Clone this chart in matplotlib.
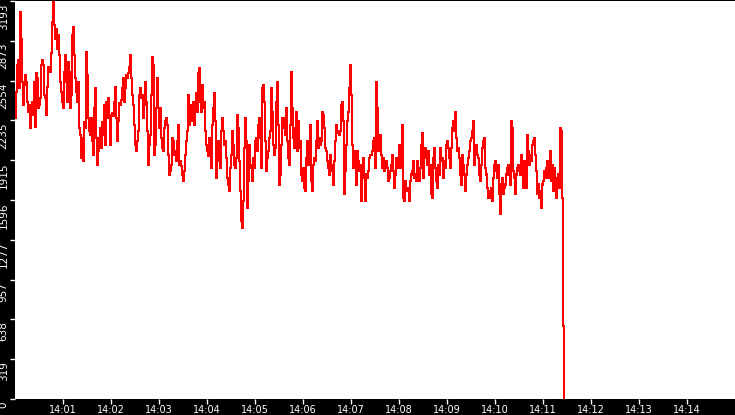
import numpy as np
import pandas as pd
import matplotlib
matplotlib.use("Agg")
import matplotlib.pyplot as plt
import matplotlib.dates as mdates
import matplotlib.transforms as mtransforms

# samples, one every 1.25 s starting 14:00:00
seg_1400 = [2253, 2466, 2679, 2719, 2492, 3104, 2891, 2546, 2359, 2519,
            2599, 2546, 2386, 2306, 2359, 2173, 2333, 2386, 2280, 2546,
            2186, 2612, 2572, 2333, 2359, 2413, 2679, 2719, 2679, 2439,
            2413, 2280, 2506, 2665, 2639, 2625, 2772, 3024, 3184, 2998,
            2891, 2971, 2812, 2918, 2758, 2546, 2466, 2386, 2333, 2625,
            2758, 2546, 2386, 2705, 2625, 2333, 2439, 2918, 2984, 2758,
            2572, 2466, 2386, 2546, 2173, 2120, 1934, 2093, 1907, 2226,
            2173, 2785, 2599, 2253, 2147, 2120, 2253, 2067, 1960, 2333,
            2492, 2093, 1881, 1987, 2093, 2173, 2014, 2226, 2120, 2359,
            2040, 2386, 2253, 2413, 2266, 2040]
seg_1402 = [2280, 2293, 2267, 2386, 2506, 2253, 2067, 2227, 2373, 2360,
            2400, 2493, 2572, 2386, 2493, 2599, 2572, 2612, 2665, 2759,
            2572, 2439, 2360, 2200, 2040, 1987, 2067, 2147, 2439, 2493,
            2413, 2439, 2253, 2360, 2546, 2386, 2147, 1881, 2040, 2120,
            2439, 2745, 2679, 1961, 2040, 2333, 2572, 2333, 2173, 2333,
            2094, 2014, 1987, 2173, 2227, 2253, 2200, 1961, 1801, 1828,
            1881, 2094, 2067, 1961, 1987, 1907, 2067, 2200, 1881, 1907,
            1868, 1801, 1748, 1828, 1961, 2067, 2147, 2439, 2200, 2306,
            2360, 2227, 2386, 2200, 2333, 2453, 2306, 2612, 2652, 2386,
            2306, 2519, 2333, 2386]
seg_1404 = [2147, 2040, 1987, 1947, 2094, 1987, 1854, 2200, 2333, 2453,
            2227, 1774, 1907, 2067, 1961, 1854, 2147, 2253, 2147, 2040,
            2067, 1934, 1774, 1721, 1668, 1854, 1961, 2147, 2040, 1881,
            1854, 1934, 2280, 2173, 1907, 1668, 1429, 1375, 1588, 2014,
            2253, 2067, 1535, 1748, 2040, 1881, 1854, 1748, 1934, 1854,
            2067, 2094, 1987, 2200, 2253, 2094, 1854, 2493, 2519, 2386,
            2067, 1828, 1934, 1987, 2094, 2147, 2493, 2306, 2040, 1961,
            2014, 2386, 2546, 2200, 1721, 1801, 2040, 2253, 2173, 2253,
            2120, 2333, 2067, 1934, 1881, 2200, 2626, 2333, 2094, 2014,
            2173, 2306, 1987, 2227]
seg_1406 = [2014, 2067, 1801, 1748, 1854, 1695, 1668, 1934, 2067, 1881,
            1961, 2200, 1748, 1668, 1881, 1934, 1907, 2067, 2227, 2014,
            2094, 2040, 2067, 2306, 2280, 2173, 2014, 1987, 1907, 1854,
            1801, 1961, 1881, 1828, 1721, 1907, 2067, 2200, 2147, 2134,
            2120, 2147, 2360, 2386, 2227, 1641, 1828, 2040, 2227, 2306,
            2493, 2679, 2439, 2040, 1854, 1987, 1907, 1721, 1987, 1907,
            1828, 1881, 1588, 1774, 1934, 1801, 1588, 1801, 1774, 1828,
            1934, 1961, 1961, 1987, 2067, 2094, 1854, 2546, 2333, 1987,
            2014, 2120, 1961, 1854, 1934, 1828, 1854, 1907, 1854, 1748,
            1774, 1828, 1881]
seg_1408 = [1961, 1828, 1695, 1801, 1934, 1907, 1854, 2040, 1987, 1854,
            2200, 1615, 1588, 1748, 1695, 1668, 1695, 1588, 1748, 1801,
            1828, 1907, 1774, 1801, 1748, 1907, 1748, 1748, 1854, 2040,
            2134, 1774, 1934, 2014, 1961, 1881, 1987, 1801, 1881, 1641,
            1615, 1934, 2014, 1854, 1748, 1695, 1881, 1801, 2014, 1907,
            1934, 1774, 1907, 1854, 2040, 2067, 2014, 1934, 1854, 2014,
            2173, 2227, 2147, 2306, 2094, 1987, 2014, 1934, 1801, 1721,
            1961, 1881, 1801, 1668, 1801, 1881, 1934, 1987, 2067, 2094,
            2147, 2227, 1881, 2014, 2040, 1961, 1934, 1801, 1748, 1881,
            2014, 2067, 2094, 1854]
seg_1410 = [1801, 1695, 1615, 1668, 1615, 1695, 1588, 1774, 1881, 1907,
            1828, 1774, 1881, 1641, 1482, 1721, 1774, 1641, 1695, 1721,
            1801, 1854, 1881, 1801, 1721, 2227, 2173, 1828, 1774, 1641,
            1801, 1854, 1881, 1828, 1801, 1961, 1854, 1695, 1907, 1854,
            1695, 2120, 1987, 1881, 1961, 1907, 2040, 2067, 2094, 1961,
            1828, 1641, 1721, 1615, 1668, 1535, 1721, 1748, 1828, 1774,
            1854, 1907, 1774, 1801, 1987, 1748, 1881, 1668, 1854, 1774,
            1615, 1774, 1801, 1695, 2173, 2147, 1615, 585, 0]

start_time = "2020-01-01 14:00:00"
end_time = "2020-01-01 14:15:00"
sample_interval_s = 1.25
ytick_values = [0, 319, 638, 957, 1277, 1596, 1915, 2235, 2554, 2873, 3193]

values = np.array(seg_1400 + seg_1402 + seg_1404 + seg_1406 + seg_1408 + seg_1410)
times = pd.Timestamp(start_time) + pd.to_timedelta(np.arange(len(values)) * sample_interval_s, unit="s")

fig = plt.figure(figsize=(7.35, 4.15), dpi=100, facecolor="black")
ax = fig.add_axes([15 / 735, 16 / 415, 720 / 735, 398 / 415])
ax.set_facecolor("white")

ax.plot(times, values, color="#ff0000", lw=0.75, drawstyle="steps-post", antialiased=False)

ax.set_xlim(pd.Timestamp(start_time), pd.Timestamp(end_time))
ax.set_ylim(0, ytick_values[-1])
for s in ax.spines.values():
    s.set_visible(False)

ax.xaxis.set_major_locator(mdates.MinuteLocator(byminute=range(1, 15)))
ax.xaxis.set_major_formatter(mdates.DateFormatter("%H:%M"))
ax.set_yticks(ytick_values)
ax.set_yticklabels([str(v) for v in ytick_values])

ax.tick_params(axis="both", colors="white", length=3.5, width=1, direction="out")
ax.tick_params(axis="x", pad=1, labelsize=7)
ax.tick_params(axis="y", pad=1, labelsize=7.5)
for lab in ax.get_xticklabels():
    lab.set_family(["DejaVu Sans"])
# nudge the rotated y labels down a touch so the top one stays on the canvas
shift = mtransforms.ScaledTranslation(0, -1.5 / 72, fig.dpi_scale_trans)
for lab in ax.get_yticklabels():
    lab.set_family(["Liberation Sans Narrow", "DejaVu Sans"])
    lab.set_rotation(90)
    lab.set_va("top")
    lab.set_ha("right")
    lab.set_transform(lab.get_transform() + shift)

fig.savefig("out.png", dpi=100, facecolor="black")
